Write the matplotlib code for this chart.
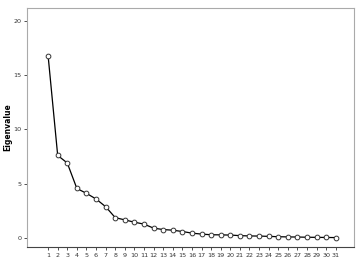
import matplotlib
matplotlib.use("Agg")
import matplotlib.pyplot as plt

components = list(range(1, 32))
eigenvalues = [16.8, 7.6, 6.9, 4.55, 4.1, 3.58, 2.87, 1.86, 1.65, 1.44, 1.26,
               0.89, 0.76, 0.70, 0.58, 0.43, 0.34, 0.28, 0.27, 0.25, 0.20,
               0.17, 0.16, 0.13, 0.10, 0.08, 0.07, 0.05, 0.04, 0.03, 0.02]
y_ticks = [0, 5, 10, 15, 20]
y_label = "Eigenvalue"

fig = plt.figure(figsize=(3.62, 2.69), dpi=100)
ax = fig.add_axes([27/362, 1 - 247/269, (354-27)/362, (247-8)/269])
ax.plot(components, eigenvalues, color="black", linewidth=0.9,
        marker="o", markersize=3.4, markerfacecolor="white",
        markeredgecolor="#333333", markeredgewidth=0.7)
ax.set_xlim(-1.2, 32.9)
ax.set_ylim(-0.85, 21.2)
ax.set_xticks(components)
ax.set_xticklabels([str(c) for c in components], fontsize=4.6)
ax.set_yticks(y_ticks)
ax.set_yticklabels([str(t) for t in y_ticks], fontsize=4.6)
ax.tick_params(axis="both", length=2.5, width=0.6, pad=1.5, colors="#333333")
ax.set_ylabel(y_label, fontsize=5.5, fontweight="bold")
ax.yaxis.set_label_coords(-0.044, 0.5)
for s in ["top", "right", "left"]:
    ax.spines[s].set_color("#aaaaaa")
    ax.spines[s].set_linewidth(0.8)
ax.spines["bottom"].set_color("#444444")
ax.spines["bottom"].set_linewidth(0.8)
fig.savefig("out.png", dpi=100)
